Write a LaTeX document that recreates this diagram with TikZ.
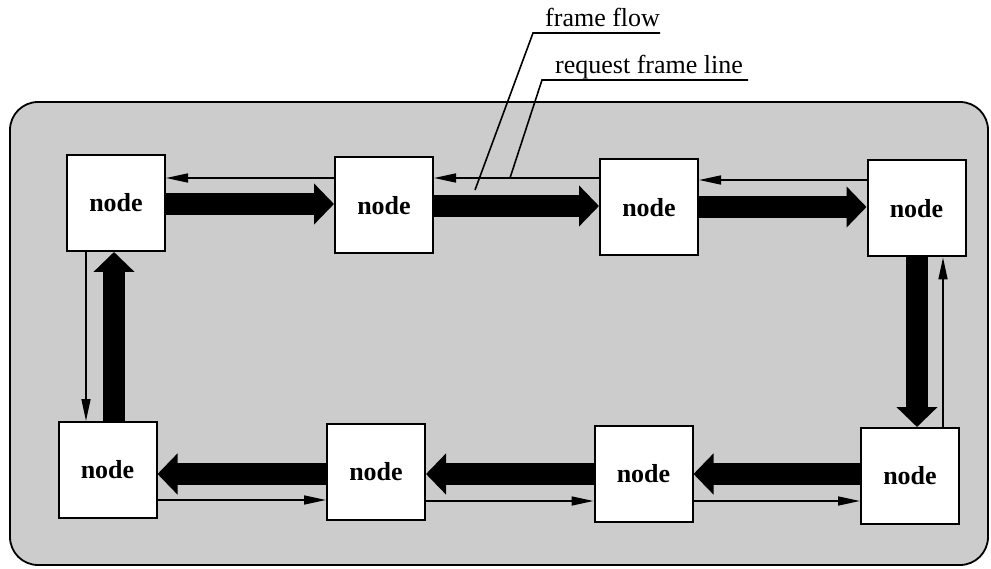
\documentclass[tikz,border=0pt]{standalone}
\usepackage{fontspec}
\setmainfont{Liberation Serif}
\usetikzlibrary{arrows.meta}
\pgfdeclarelayer{bg}
\pgfdeclarelayer{mid}
\pgfsetlayers{bg,mid,main}
\begin{document}
\begin{tikzpicture}[x=1pt,y=-1pt,
  box/.style={draw,line width=2pt,fill=white,minimum width=98pt,minimum height=96pt,inner sep=0pt,font=\fontsize{26}{30}\selectfont\bfseries},
  flow/.style={line width=22pt,-{Triangle[length=20pt,width=40pt]}},
  req/.style={line width=1.6pt,-{Triangle[length=22pt,width=9pt]}},
  lab/.style={font=\fontsize{26}{30}\selectfont,inner sep=0pt,anchor=base west},
  leader/.style={line width=1.6pt}]
\useasboundingbox (0,0) rectangle (991,569);
\begin{pgfonlayer}{bg}
\draw[line width=1.8pt,fill=black!20,rounded corners=28pt] (10,102) rectangle (988,565);
\end{pgfonlayer}
% nodes
\node[box] (n1) at (116,203) {node};
\node[box] (n2) at (384,205.5) {node};
\node[box] (n3) at (649,207.5) {node};
\node[box] (n4) at (916.5,208.5) {node};
\node[box] (n5) at (107.5,470) {node};
\node[box] (n6) at (376,472) {node};
\node[box] (n7) at (643.5,473.5) {node};
\node[box] (n8) at (910,476) {node};
\begin{pgfonlayer}{mid}
% thick frame flow arrows
\draw[flow] (n1.east |- 0,204) -- (n2.west |- 0,204);
\draw[flow] (n2.east |- 0,206) -- (n3.west |- 0,206);
\draw[flow] (n3.east |- 0,207) -- (n4.west |- 0,207);
\draw[flow] (n4.south -| 917,0) -- (n8.north -| 917,0);
\draw[flow] (n8.west |- 0,474) -- (n7.east |- 0,474);
\draw[flow] (n7.west |- 0,474) -- (n6.east |- 0,474);
\draw[flow] (n6.west |- 0,474) -- (n5.east |- 0,474);
\draw[flow] (n5.north -| 114,0) -- (n1.south -| 114,0);
% thin request frame lines
\draw[req] (n2.west |- 0,178) -- (n1.east |- 0,178);
\draw[req] (n3.west |- 0,178) -- (n2.east |- 0,178);
\draw[req] (n4.west |- 0,180) -- (n3.east |- 0,180);
\draw[req] (n8.north -| 943,0) -- (n4.south -| 943,0);
\draw[req] (n5.east |- 0,500) -- (n6.west |- 0,500);
\draw[req] (n6.east |- 0,501) -- (n7.west |- 0,501);
\draw[req] (n7.east |- 0,501) -- (n8.west |- 0,501);
\draw[req] (n1.south -| 86,0) -- (n5.north -| 86,0);
\end{pgfonlayer}
% labels
\node[lab] (ff) at (545,27) {frame flow};
\node[lab] (rf) at (555,74) {request frame line};
\coordinate (ffa) at (533,33);
\coordinate (ffb) at (660,33);
\coordinate (ffc) at (475,190);
\coordinate (rfa) at (542,80);
\coordinate (rfb) at (748,80);
\coordinate (rfc) at (510,178);
\draw[leader] (ffc) -- (ffa) -- (ffb);
\draw[leader] (rfc) -- (rfa) -- (rfb);
\end{tikzpicture}
\end{document}
